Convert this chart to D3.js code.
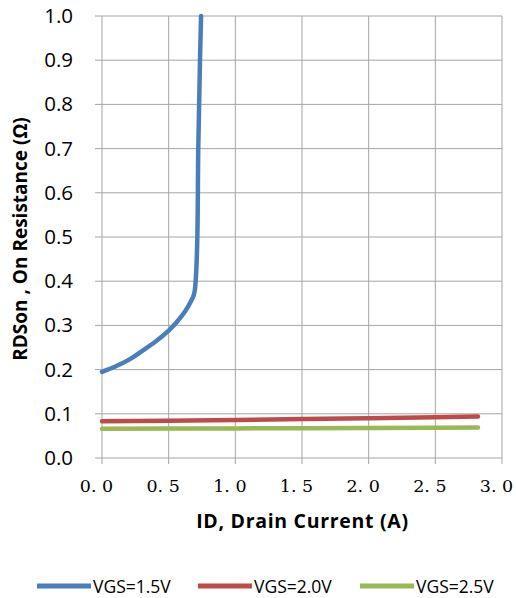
<!DOCTYPE html>
<html>
<head>
<meta charset="utf-8">
<script src="https://cdn.jsdelivr.net/npm/d3@7"></script>
<style>
  body { margin: 0; background: #fff; }
  .axisText { font-family: "Open Sans", sans-serif; font-weight: bold; font-size: 19px; fill: #000; }
</style>
</head>
<body>
<div id="chart"></div>
<script>
// data
let blueX = [0, 0.1, 0.2, 0.3, 0.4, 0.5, 0.6, 0.65, 0.69, 0.70, 0.715, 0.722, 0.735, 0.743];
let blueY = [0.195, 0.207, 0.222, 0.242, 0.263, 0.288, 0.322, 0.345, 0.37, 0.39, 0.5, 0.7, 0.9, 1.0];
let redX = [0, 0.5, 1.0, 1.5, 2.0, 2.5, 2.82];
let redY = [0.083, 0.084, 0.086, 0.088, 0.090, 0.092, 0.094];
let greenX = [0, 0.5, 1.0, 1.5, 2.0, 2.5, 2.82];
let greenY = [0.066, 0.0665, 0.067, 0.0675, 0.068, 0.0685, 0.069];
let seriesNames = ["VGS=1.5V", "VGS=2.0V", "VGS=2.5V"];
let seriesColors = ["#4a7ebb", "#be4b48", "#98b954"];
let xTicks = [0, 0.5, 1.0, 1.5, 2.0, 2.5, 3.0];
let yTicks = [0, 0.1, 0.2, 0.3, 0.4, 0.5, 0.6, 0.7, 0.8, 0.9, 1.0];

let svgWidth = 516;
let svgHeight = 598;

let margin = { top: 16, right: 14, bottom: 140, left: 102 };

let width = 400;
let height = 442;

let svg = d3.select("#chart")
    .append("svg")
    .attr("width", svgWidth)
    .attr("height", svgHeight);

let chartGroup = svg.append("g")
    .attr("transform", `translate(${margin.left}, ${margin.top})`);

let xScale = d3.scaleLinear().domain([0, 3]).range([0, width]);
let yScale = d3.scaleLinear().domain([0, 1]).range([height, 0]);

// grid
chartGroup.append("g").selectAll("line")
    .data(xTicks)
    .enter()
    .append("line")
    .attr("x1", d => xScale(d)).attr("x2", d => xScale(d))
    .attr("y1", 0).attr("y2", height + 6)
    .attr("stroke", "#a6a6a6").attr("stroke-width", 1);

chartGroup.append("g").selectAll("line")
    .data(yTicks)
    .enter()
    .append("line")
    .attr("x1", -7).attr("x2", width)
    .attr("y1", d => yScale(d)).attr("y2", d => yScale(d))
    .attr("stroke", "#a6a6a6").attr("stroke-width", 1);

// axes (labels only, lines drawn as grid)
let yAxis = d3.axisLeft(yScale).tickValues(yTicks).tickFormat(d3.format(".1f")).tickSize(0).tickPadding(29);
let xAxis = d3.axisBottom(xScale).tickValues(xTicks).tickFormat(d => d.toFixed(1).replace(".", ". ")).tickSize(0).tickPadding(22);

let yG = chartGroup.append("g").call(yAxis);
yG.select(".domain").remove();
yG.selectAll("text")
    .attr("font-family", "'Open Sans', sans-serif")
    .attr("font-size", "20.5px")
    .attr("fill", "#000");

let xG = chartGroup.append("g")
    .attr("transform", `translate(0, ${height})`)
    .call(xAxis);
xG.select(".domain").remove();
xG.selectAll("text")
    .attr("font-family", "'DejaVu Serif', serif")
    .attr("font-size", "17.5px")
    .attr("dx", "-6")
    .attr("style", "white-space: pre")
    .attr("fill", "#000");

// lines
let allSeries = [
    d3.zip(blueX, blueY),
    d3.zip(redX, redY),
    d3.zip(greenX, greenY)
];

let line = d3.line()
    .x(d => xScale(d[0]))
    .y(d => yScale(d[1]))
    .curve(d3.curveMonotoneY);

let flatLine = d3.line()
    .x(d => xScale(d[0]))
    .y(d => yScale(d[1]));

allSeries.forEach((s, i) => {
    chartGroup.append("path")
        .datum(s)
        .attr("d", i == 0 ? line : flatLine)
        .attr("fill", "none")
        .attr("stroke", seriesColors[i])
        .attr("stroke-width", 4.5)
        .attr("stroke-linejoin", "round")
        .attr("stroke-linecap", "round");
});

// axes labels
svg.append("text")
    .attr("class", "axisText")
    .attr("x", 302.5)
    .attr("y", 528)
    .attr("text-anchor", "middle")
    .attr("font-size", "19.5px")
    .style("font-size", "19.5px")
    .style("letter-spacing", "0.7px")
    .text("ID, Drain Current (A)");

svg.append("text")
    .attr("class", "axisText")
    .attr("transform", "translate(27, 239) rotate(-90)")
    .attr("text-anchor", "middle")
    .text("RDSon , On Resistance (Ω)");

// legend
let legendX = [37, 198, 360];
let legend = svg.append("g");
seriesNames.forEach((n, i) => {
    legend.append("line")
        .attr("x1", legendX[i]).attr("x2", legendX[i] + 54)
        .attr("y1", 586).attr("y2", 586)
        .attr("stroke", seriesColors[i])
        .attr("stroke-width", 5);
    legend.append("text")
        .attr("x", legendX[i] + 56)
        .attr("y", 592.5)
        .attr("font-family", "'Open Sans', sans-serif")
        .attr("font-size", "17.5px")
        .attr("fill", "#000")
        .text(n);
});
</script>
</body>
</html>
